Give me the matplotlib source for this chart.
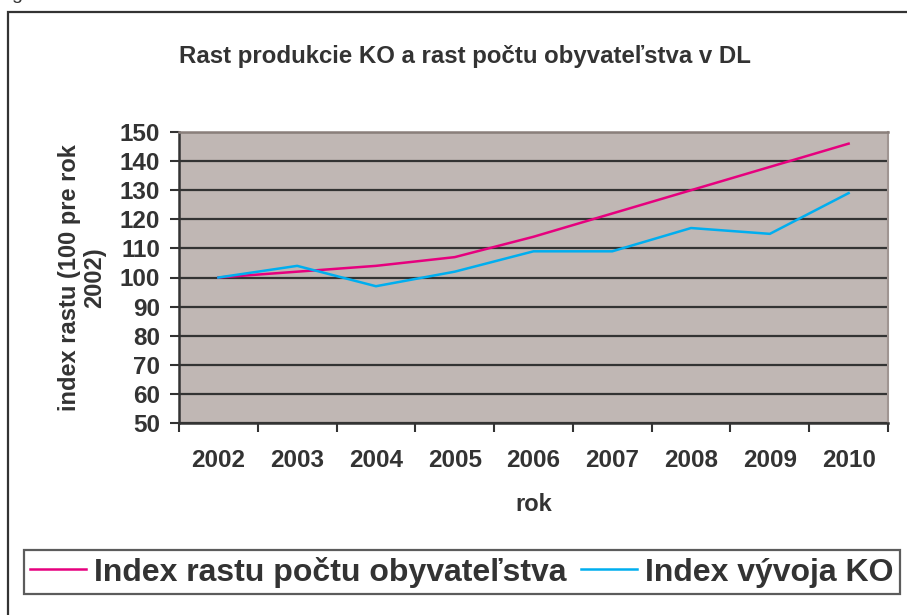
import matplotlib as mpl
mpl.use('Agg')
import matplotlib.pyplot as plt
from matplotlib.patches import Rectangle
from matplotlib.ticker import FixedLocator

years = ['2002', '2003', '2004', '2005', '2006', '2007', '2008', '2009', '2010']
obyvatelstvo = [100, 102, 104, 107, 114, 122, 130, 138, 146]
vyvoj_ko = [100, 104, 97, 102, 109, 109, 117, 115, 129]

txt = '#333333'
plt.rcParams['font.family'] = ['Liberation Sans', 'DejaVu Sans']
plt.rcParams['font.weight'] = 'bold'

W, H = 907, 615
fig = plt.figure(figsize=(W / 100, H / 100), dpi=100)
ax = fig.add_axes([179 / W, 1 - 423 / H, (888 - 179) / W, (423 - 132) / H])
ax.set_facecolor('#c0b7b4')

x = list(range(len(years)))
l1, = ax.plot(x, obyvatelstvo, color='#e6007e', lw=1.8, zorder=3)
l2, = ax.plot(x, vyvoj_ko, color='#00aeef', lw=1.8, zorder=3)

ax.set_xlim(-0.5, len(years) - 0.5)
ax.set_ylim(50, 150)
ax.set_yticks(range(50, 151, 10))
ax.yaxis.grid(True, color='#333333', lw=1.6)
ax.set_axisbelow(True)

ax.set_xticks(x)
ax.set_xticklabels(years)
ax.xaxis.set_minor_locator(FixedLocator([i - 0.5 for i in range(len(years) + 1)]))
ax.tick_params(axis='x', which='major', length=0, pad=19, labelsize=17.5, labelcolor=txt)
ax.tick_params(axis='x', which='minor', length=6.5, width=1.5, color=txt, direction='out')
ax.tick_params(axis='y', length=6.5, width=1.5, color=txt, pad=7, labelsize=17.5, labelcolor=txt)

for s in ['left', 'bottom']:
    ax.spines[s].set_color(txt)
    ax.spines[s].set_linewidth(1.8)
ax.spines['top'].set_color('#8a7f7b')
ax.spines['top'].set_linewidth(1.8)
ax.spines['right'].set_color('#a09592')
ax.spines['right'].set_linewidth(1.5)

ax.set_xlabel('rok', fontsize=17, color=txt, labelpad=15, fontweight='bold')
ax.set_ylabel('index rastu (100 pre rok\n2002)', fontsize=17, color=txt, labelpad=10,
              linespacing=1.1, fontweight='bold')

fig.text(465 / W, 1 - 57 / H, 'Rast produkcie KO a rast počtu obyvateľstva v DL',
         ha='center', va='center', fontsize=17.3, color=txt)

# outer chart frame (cropped at right and bottom)
fig.add_artist(Rectangle((8 / W, -0.1), 1.2, 1.1 - 12 / H, transform=fig.transFigure,
                         fill=False, ec=txt, lw=1.6))
fig.text(11 / W, 1 - 3 / H, 'g', fontsize=14, color=txt, va='bottom', fontweight='normal')

leg = fig.legend([l1, l2], ['Index rastu počtu obyvateľstva', 'Index vývoja KO'],
                 loc='center', bbox_to_anchor=(462 / W, 1 - 572 / H), ncol=2,
                 fontsize=23, frameon=True, fancybox=False, edgecolor=txt,
                 handlelength=1.75, handletextpad=0.25, columnspacing=0.45,
                 borderpad=0.2, borderaxespad=0)
leg.get_frame().set_linewidth(1.6)
for t in leg.get_texts():
    t.set_color(txt)

fig.savefig('out.png', dpi=100)
